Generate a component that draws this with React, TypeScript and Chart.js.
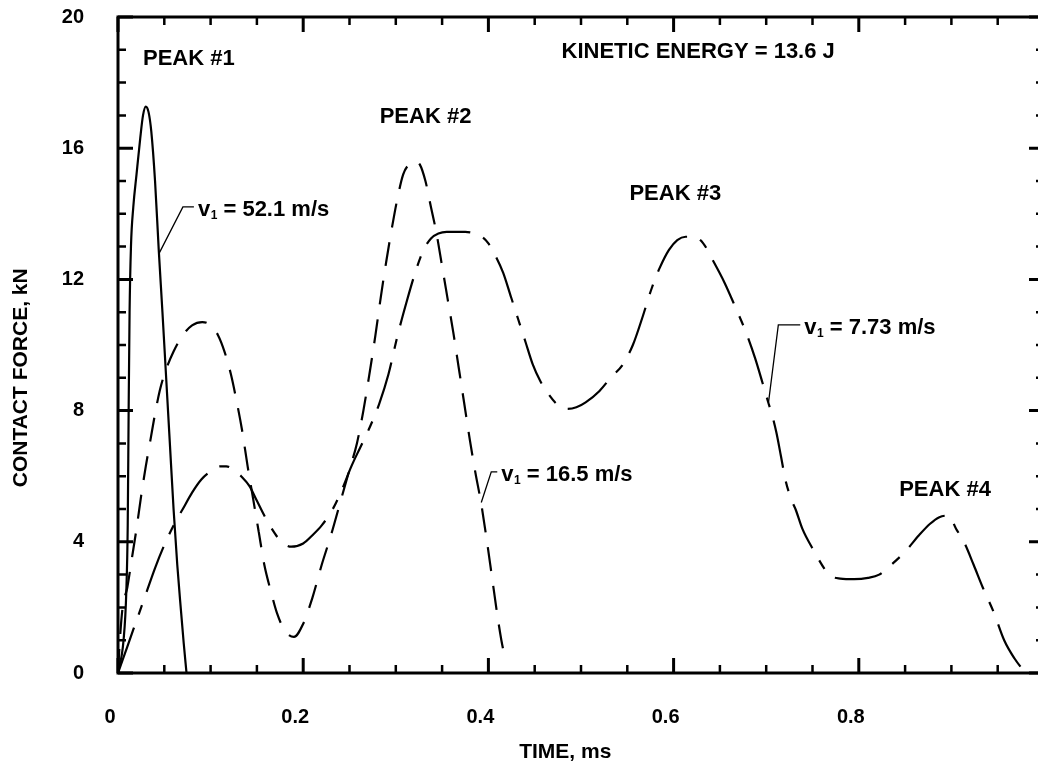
import React, { useEffect, useRef } from "react";
import { Chart, registerables } from "chart.js";

Chart.register(...registerables);

// ---- Data ----
const time52 = [0, 0.006, 0.009, 0.0105, 0.0115, 0.0125, 0.014, 0.0165, 0.02, 0.024, 0.027, 0.03, 0.033, 0.036, 0.04, 0.044, 0.048, 0.052, 0.056, 0.06, 0.064, 0.068, 0.071, 0.074];
const force52 = [0, 1.0, 2.5, 4.5, 8.0, 11.0, 13.0, 14.2, 15.2, 16.3, 17.0, 17.27, 17.1, 16.5, 15.0, 12.9, 11.0, 9.0, 7.0, 5.0, 3.3, 1.9, 0.9, 0];

const time16 = [0, 0.002, 0.005, 0.01, 0.015, 0.02, 0.025, 0.03, 0.035, 0.04, 0.045, 0.05, 0.06, 0.07, 0.08, 0.091, 0.1, 0.108, 0.115, 0.122, 0.128, 0.134, 0.14, 0.146, 0.152, 0.158, 0.165, 0.172, 0.18, 0.19, 0.2, 0.21, 0.22, 0.23, 0.24, 0.25, 0.258, 0.265, 0.272, 0.278, 0.284, 0.29, 0.296, 0.302, 0.308, 0.314, 0.32, 0.326, 0.332, 0.338, 0.344, 0.35, 0.356, 0.362, 0.368, 0.374, 0.38, 0.386, 0.392, 0.398, 0.404, 0.41, 0.414, 0.418];
const force16 = [0, 1.0, 2.0, 2.6, 3.5, 4.4, 5.4, 6.3, 7.1, 7.9, 8.6, 9.1, 9.8, 10.3, 10.6, 10.7, 10.6, 10.3, 9.8, 9.1, 8.3, 7.4, 6.3, 5.3, 4.3, 3.3, 2.5, 1.8, 1.3, 1.1, 1.5, 2.3, 3.3, 4.2, 5.2, 6.2, 7.0, 8.0, 9.2, 10.3, 11.5, 12.6, 13.6, 14.5, 15.2, 15.5, 15.6, 15.5, 15.0, 14.2, 13.4, 12.4, 11.4, 10.4, 9.3, 8.2, 7.1, 6.1, 5.2, 4.1, 2.9, 1.7, 1.0, 0.45];

const time7 = [0, 0.01, 0.02, 0.03, 0.04, 0.05, 0.06, 0.07, 0.08, 0.09, 0.1, 0.11, 0.117, 0.125, 0.133, 0.142, 0.15, 0.158, 0.166, 0.175, 0.187, 0.2, 0.21, 0.22, 0.232, 0.242, 0.252, 0.262, 0.272, 0.282, 0.292, 0.302, 0.312, 0.322, 0.33, 0.338, 0.346, 0.355, 0.365, 0.375, 0.385, 0.393, 0.4, 0.408, 0.416, 0.424, 0.432, 0.44, 0.448, 0.456, 0.465, 0.475, 0.485, 0.495, 0.505, 0.52, 0.532, 0.545, 0.556, 0.567, 0.576, 0.585, 0.595, 0.604, 0.613, 0.622, 0.632, 0.642, 0.655, 0.666, 0.678, 0.688, 0.696, 0.702, 0.706, 0.711, 0.716, 0.721, 0.728, 0.732, 0.739, 0.75, 0.768, 0.78, 0.795, 0.81, 0.822, 0.835, 0.85, 0.865, 0.877, 0.887, 0.897, 0.905, 0.914, 0.924, 0.934, 0.946, 0.957, 0.968, 0.98];
const force7 = [0, 0.8, 1.6, 2.4, 3.2, 3.9, 4.5, 5.0, 5.5, 5.9, 6.15, 6.3, 6.3, 6.2, 6.0, 5.7, 5.25, 4.8, 4.4, 4.05, 3.85, 3.95, 4.2, 4.5, 5.0, 5.6, 6.3, 6.9, 7.5, 8.2, 9.1, 10.3, 11.35, 12.3, 12.9, 13.25, 13.4, 13.45, 13.45, 13.45, 13.4, 13.3, 13.1, 12.7, 12.2, 11.5, 10.8, 10.1, 9.4, 8.9, 8.5, 8.17, 8.05, 8.1, 8.25, 8.6, 9.0, 9.4, 10.0, 10.9, 11.7, 12.35, 12.9, 13.2, 13.3, 13.3, 13.1, 12.6, 11.9, 11.2, 10.4, 9.6, 8.85, 8.27, 7.9, 7.33, 6.6, 5.86, 5.23, 4.97, 4.4, 3.8, 3.0, 2.88, 2.86, 2.9, 3.0, 3.3, 3.7, 4.2, 4.55, 4.75, 4.8, 4.4, 3.97, 3.3, 2.6, 1.83, 1.0, 0.45, 0];

const velocityLabels = ["52.1", "16.5", "7.73"];
const peakLabels = ["PEAK #1", "PEAK #2", "PEAK #3", "PEAK #4"];
const energyLabel = "KINETIC ENERGY = 13.6 J";
const xTitle = "TIME, ms";
const yTitle = "CONTACT FORCE, kN";

const X_MIN = 0, X_MAX = 1, X_MAJOR = 0.2, X_MINOR = 0.05;
const Y_MIN = 0, Y_MAX = 20, Y_MAJOR = 4, Y_MINOR = 1;

// ---- Annotation placement (data coordinates) ----
const peakPos = [
  { t: 0.027, f: 18.72 },
  { t: 0.2826, f: 16.95 },
  { t: 0.5523, f: 14.6 },
  { t: 0.8436, f: 5.58 },
];
const energyPos = { t: 0.479, f: 18.93 };
const velPos = [
  { t: 0.0863, f: 14.12, elbowT: 0.0701, targetT: 0.0445, targetF: 12.8 },
  { t: 0.4139, f: 6.04, elbowT: 0.4031, targetT: 0.3923, targetF: 5.2 },
  { t: 0.7411, f: 10.52, elbowT: 0.7131, targetT: 0.7025, targetF: 8.25 },
];

const FONT = '"Liberation Sans", Arial, Helvetica, sans-serif';

const frameTicks = {
  id: "frameTicks",
  afterDatasetsDraw(chart: any) {
    const { ctx, chartArea: a, scales } = chart;
    const xs = scales.x;
    const ys = scales.y;
    ctx.save();
    ctx.strokeStyle = "#000";
    ctx.lineCap = "butt";
    const nx = Math.round((X_MAX - X_MIN) / X_MINOR);
    const perX = Math.round(X_MAJOR / X_MINOR);
    for (let i = 0; i <= nx; i++) {
      const px = xs.getPixelForValue(X_MIN + i * X_MINOR);
      const major = i % perX === 0;
      const len = major ? 15 : 8;
      ctx.lineWidth = major ? 3 : 2.5;
      ctx.beginPath();
      ctx.moveTo(px, a.bottom);
      ctx.lineTo(px, a.bottom - len);
      ctx.moveTo(px, a.top);
      ctx.lineTo(px, a.top + len);
      ctx.stroke();
    }
    const ny = Math.round((Y_MAX - Y_MIN) / Y_MINOR);
    const perY = Math.round(Y_MAJOR / Y_MINOR);
    for (let i = 0; i <= ny; i++) {
      const py = ys.getPixelForValue(Y_MIN + i * Y_MINOR);
      const major = i % perY === 0;
      const len = major ? 15 : 8;
      ctx.lineWidth = major ? 3 : 2.5;
      ctx.beginPath();
      ctx.moveTo(a.left, py);
      ctx.lineTo(a.left + len, py);
      ctx.moveTo(a.right, py);
      ctx.lineTo(a.right - len, py);
      ctx.stroke();
    }
    ctx.lineWidth = 3;
    ctx.strokeRect(a.left, a.top, a.right - a.left, a.bottom - a.top);
    ctx.restore();
  },
};

const annotations = {
  id: "annotations",
  afterDraw(chart: any) {
    const { ctx, scales } = chart;
    const xs = scales.x;
    const ys = scales.y;
    const X = (t: number) => xs.getPixelForValue(t);
    const Y = (f: number) => ys.getPixelForValue(f);
    ctx.save();
    ctx.fillStyle = "#000";
    ctx.strokeStyle = "#000";
    ctx.textBaseline = "middle";
    ctx.textAlign = "left";
    ctx.font = `bold 22px ${FONT}`;
    peakLabels.forEach((s, i) => ctx.fillText(s, X(peakPos[i].t), Y(peakPos[i].f)));
    ctx.fillText(energyLabel, X(energyPos.t), Y(energyPos.f));

    velocityLabels.forEach((v, i) => {
      const p = velPos[i];
      const x0 = X(p.t);
      const y0 = Y(p.f);
      ctx.font = `bold 22px ${FONT}`;
      ctx.fillText("v", x0, y0);
      const w1 = ctx.measureText("v").width;
      ctx.font = `bold 12px ${FONT}`;
      ctx.fillText("1", x0 + w1 + 0.5, y0 + 6);
      const w2 = ctx.measureText("1").width + 0.5;
      ctx.font = `bold 22px ${FONT}`;
      ctx.fillText(` = ${v} m/s`, x0 + w1 + w2, y0);
      const cy = y0 - 3;
      ctx.lineWidth = 1.3;
      ctx.beginPath();
      ctx.moveTo(x0 - 4, cy);
      ctx.lineTo(X(p.elbowT), cy);
      ctx.lineTo(X(p.targetT), Y(p.targetF));
      ctx.stroke();
    });

    ctx.font = `bold 21px ${FONT}`;
    ctx.textAlign = "center";
    ctx.fillText(xTitle, X(0.483), chart.chartArea.bottom + 79);
    ctx.save();
    ctx.translate(21, Y(9));
    ctx.rotate(-Math.PI / 2);
    ctx.fillText(yTitle, 0, 0);
    ctx.restore();
    ctx.restore();
  },
};

function toPoints(ts: number[], fs: number[]) {
  return ts.map((t, i) => ({ x: t, y: fs[i] }));
}

export default function App() {
  const ref = useRef<HTMLCanvasElement>(null);
  useEffect(() => {
    const canvas = ref.current;
    if (!canvas) return;
    const tickFont = { family: FONT, size: 20, weight: "bold" as const };
    const chart = new Chart(canvas, {
      type: "line",
      data: {
        datasets: [
          {
            label: "v1 = 52.1 m/s",
            data: toPoints(time52, force52),
            borderColor: "#000",
            borderWidth: 2.2,
            pointRadius: 0,
            cubicInterpolationMode: "monotone",
            fill: false,
          },
          {
            label: "v1 = 16.5 m/s",
            data: toPoints(time16, force16),
            borderColor: "#000",
            borderWidth: 2.2,
            borderDash: [24, 15],
            pointRadius: 0,
            cubicInterpolationMode: "monotone",
            fill: false,
          },
          {
            label: "v1 = 7.73 m/s",
            data: toPoints(time7, force7),
            borderColor: "#000",
            borderWidth: 2.2,
            borderDash: [48, 14, 10, 14],
            pointRadius: 0,
            cubicInterpolationMode: "monotone",
            fill: false,
          },
        ],
      },
      options: {
        responsive: false,
        animation: false,
        devicePixelRatio: 1,
        layout: { padding: { left: 0, top: 17, right: 16, bottom: 0 } },
        plugins: { legend: { display: false }, tooltip: { enabled: false }, title: { display: false } },
        elements: { point: { radius: 0 } },
        scales: {
          x: {
            type: "linear",
            min: X_MIN,
            max: X_MAX,
            border: { display: false },
            grid: { display: false, drawTicks: true, tickLength: 30 },
            ticks: {
              stepSize: X_MAJOR,
              padding: 2,
              labelOffset: -8,
              color: "#000",
              font: tickFont,
              maxRotation: 0,
              callback: (v: any) => {
                const n = Number(v);
                if (n === 0) return "0";
                if (n >= X_MAX) return "";
                return n.toFixed(1);
              },
            },
            afterFit: (s: any) => {
              s.height = 95;
            },
          },
          y: {
            type: "linear",
            min: Y_MIN,
            max: Y_MAX,
            border: { display: false },
            grid: { display: false, drawTicks: true, tickLength: 32 },
            ticks: {
              stepSize: Y_MAJOR,
              padding: 2,
              color: "#000",
              font: tickFont,
            },
            afterFit: (s: any) => {
              s.width = 118;
            },
          },
        },
      },
      plugins: [frameTicks, annotations],
    } as any);
    return () => chart.destroy();
  }, []);
  return (
    <div
      style={{
        position: "fixed",
        left: 0,
        top: 0,
        width: 1038,
        height: 768,
        overflow: "hidden",
        background: "#fff",
      }}
    >
      <canvas ref={ref} width={1060} height={768} style={{ display: "block", width: 1060, height: 768 }} />
    </div>
  );
}
